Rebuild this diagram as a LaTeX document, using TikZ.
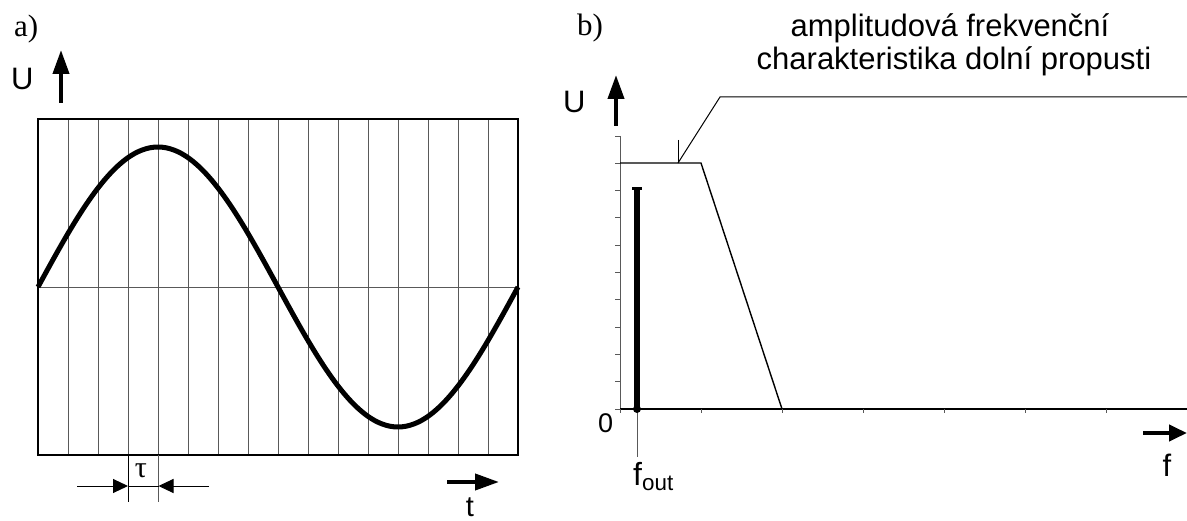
\documentclass[tikz,border=0pt]{standalone}
\usepackage{fontspec}
\setmainfont{Liberation Sans}
\newfontfamily\serifa{Liberation Serif}
\usetikzlibrary{arrows.meta}
\begin{document}
\begin{tikzpicture}[x=1pt,y=-1pt,
  lbl/.style={inner sep=0pt,anchor=base,font=\fontsize{31}{31}\selectfont},
  serlbl/.style={inner sep=0pt,anchor=base west,font=\fontsize{31}{31}\serifa},
  gridln/.style={black!65,line width=0.9pt},
  bigarrow/.style={line width=4pt,-{Triangle[length=24pt,width=16pt]}},
  smallarrow/.style={line width=1pt,-{Triangle[length=15pt,width=14pt]}},
  curve/.style={line width=5pt,line join=round},
  thinblack/.style={line width=1.2pt}]
\useasboundingbox (0,0) rectangle (1187,521);
% ---------- panel a ----------
\node[serlbl] (la) at (14,37) {a)};
\node[lbl,anchor=base west] (Ua) at (11,90) {U};
\coordinate (ua0) at (61,103);
\coordinate (ua1) at (61,50);
\draw[bigarrow] (ua0) -- (ua1);
\foreach \k in {1,...,15} {
  \draw[gridln] ({38+30*\k},119) -- ({38+30*\k},455);
}
\draw[gridln] (38,287) -- (518,287);
\draw[thinblack] (38,119) rectangle (518,455);
\draw[curve] plot[domain=0:480,samples=121,smooth] ({38+\x},{287-140*sin(\x*0.75)});
% tau
\draw[black,line width=0.9pt] (128,455) -- (128,502);
\draw[gridln] (158,455) -- (158,502);
\node[inner sep=0pt,anchor=base,font=\fontsize{30}{30}\serifa] (tau) at (141,478) {τ};
\coordinate (tl0) at (77,486);
\coordinate (tl1) at (128,486);
\coordinate (tr0) at (209,486);
\coordinate (tr1) at (158.5,486);
\draw[smallarrow] (tl0) -- (tl1);
\draw[smallarrow] (tr0) -- (tr1);
\draw[line width=1pt] (tl1) -- (tr1);
% t axis arrow
\coordinate (ta0) at (447,482);
\coordinate (ta1) at (499,482);
\draw[bigarrow] (ta0) -- (ta1);
\node[lbl,font=\fontsize{29}{29}\selectfont] (t) at (470,516) {t};
% ---------- panel b ----------
\node[serlbl] (lb) at (577,36) {b)};
\node[lbl,anchor=base west] (Ub) at (563,113) {U};
\coordinate (ub0) at (616,126);
\coordinate (ub1) at (616,75);
\draw[bigarrow] (ub0) -- (ub1);
% vertical axis with ticks
\draw[gridln] (620,136) -- (620,412);
\foreach \k in {0,...,10} {
  \draw[gridln] (615,{409-27.3*\k}) -- (620,{409-27.3*\k});
}
% horizontal axis with ticks
\draw[thinblack] (620,409) -- (1187,409);
\foreach \k in {0,...,7} {
  \draw[gridln] ({620+81*\k},409) -- ({620+81*\k},413);
}
\node[inner sep=0pt,anchor=base west,font=\fontsize{27}{27}\selectfont] (zero) at (598,432) {0};
% filter characteristic
\coordinate (f0) at (620,163);
\coordinate (f1) at (701,163);
\coordinate (f2) at (782,409);
\draw[line width=1.4pt,line join=miter] (f0) -- (f1) -- (f2);
% callout
\coordinate (c0) at (678,163);
\coordinate (c1) at (720,97);
\coordinate (c2) at (1187,97);
\coordinate (ct) at (678,140);
\draw[line width=1pt] (c0) -- (c1) -- (c2);
\draw[line width=1pt] (ct) -- (c0);
\node[lbl] (title1) at (950,37) {amplitudová frekvenční};
\node[lbl] (title2) at (954,70) {charakteristika dolní propusti};
% f_out spectral line
\coordinate (b0) at (637,409);
\coordinate (b1) at (637,189);
\coordinate (b2) at (637,457);
\draw[gridln] (b0) -- (b2);
\draw[line width=6pt] (b0) -- (b1);
\draw[line width=3pt] (632,189) -- (642,189);
\fill (b0) circle (4pt);
\node[lbl,anchor=base west,font=\fontsize{32}{32}\selectfont] (fout) at (633,485) {f\textsubscript{out}};
% f axis arrow
\coordinate (fa0) at (1143,433);
\coordinate (fa1) at (1187,433);
\draw[line width=4pt,-{Triangle[length=18pt,width=16pt]}] (fa0) -- (fa1);
\node[lbl] (f) at (1167,476) {f};
\end{tikzpicture}
\end{document}
